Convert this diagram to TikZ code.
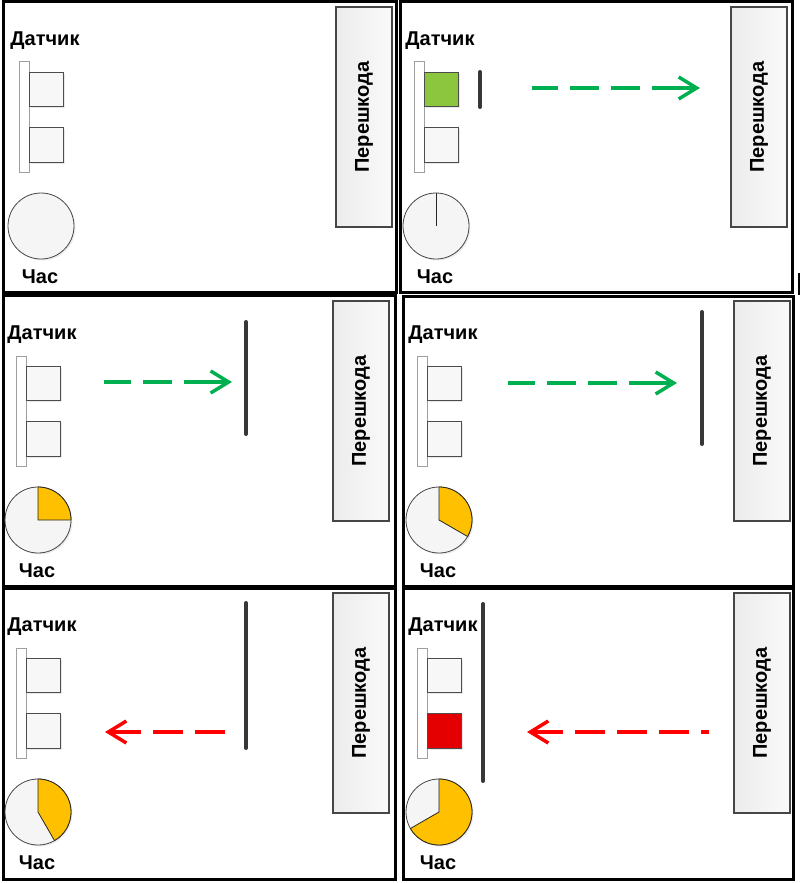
\documentclass[tikz,border=0pt]{standalone}
\usepackage{fontspec}
\setmainfont{Liberation Sans}
\usetikzlibrary{arrows.meta,shadows}
\definecolor{okgreen}{RGB}{0,176,80}
\definecolor{ledgreen}{RGB}{140,198,63}
\definecolor{alarmred}{RGB}{255,0,0}
\definecolor{ledred}{RGB}{228,0,0}
\definecolor{timeyellow}{RGB}{255,192,0}
\definecolor{walldark}{RGB}{55,55,55}
\tikzset{
  panelframe/.style={draw=black, line width=3pt},
  lbl/.style={font=\bfseries\fontsize{20}{22}\selectfont, inner sep=0pt},
  sensorbar/.style={draw=gray!75, fill=white, line width=1pt},
  cell/.style={draw=gray!60!black, line width=1pt, fill=#1,
    drop shadow={opacity=0.18, shadow xshift=1.5pt, shadow yshift=-1.5pt}},
  cell/.default=gray!6,
  clockface/.style={draw=gray!55!black, line width=0.8pt, fill=gray!8,
    drop shadow={opacity=0.15, shadow xshift=1.5pt, shadow yshift=-1.5pt}},
  sector/.style={fill=timeyellow, draw=gray!30!black, line width=0.8pt},
  hand/.style={draw=gray!30!black, line width=0.8pt},
  obstacle/.style={draw=gray!55!black, line width=1.2pt, rotate=90,
    minimum width=220pt, minimum height=56pt, inner sep=0pt,
    left color=gray!15, right color=gray!4, font=\bfseries\fontsize{20}{22}\selectfont},
  wall/.style={draw=walldark, line width=4pt, line cap=round},
  goarrow/.style={draw=okgreen, line width=3.5pt,
    {Straight Barb[length=18pt, width=22pt]}-,
    dash pattern=on 43pt off 12pt on 29pt off 12pt on 29pt off 12pt on 29pt off 12pt on 29pt off 12pt},
  backarrow/.style={draw=alarmred, line width=3.5pt,
    {Straight Barb[length=18pt, width=22pt]}-,
    dash pattern=on 31pt off 12pt on 30pt off 12pt on 30pt off 12pt on 30pt off 12pt on 30pt off 12pt}
}
\begin{document}
\begin{tikzpicture}[x=1pt, y=-1pt]
  % Canvas
  \useasboundingbox (0,0) rectangle (800,883);

  % Panel frames
  \foreach \xa/\ya/\xb/\yb in {3/2/396/292, 400/2/792/292, 3/295/395/586,
                               403/296/793/586, 3/588/395/879, 403/588/793/879}
    \draw[panelframe] (\xa,\ya) rectangle (\xb,\yb);
  \draw[line width=2pt] (799,273) -- (799,295);

  % Sensor, clock and obstacle of every panel
  \foreach \i/\ox/\oy/\upfill/\lowfill in {1/5/2/gray!6/gray!6, 2/400/2/ledgreen/gray!6,
      3/2/296/gray!6/gray!6, 4/403/296/gray!6/gray!6,
      5/2/588/gray!6/gray!6, 6/403/588/gray!6/ledred} {
    \begin{scope}[shift={(\ox,\oy)}]
      \node[lbl] (dat\i) at (40,39) {Датчик};
      \draw[sensorbar] (14,60) rectangle (24,170);
      \draw[cell=\upfill] (24,70) rectangle (58,104);
      \draw[cell=\lowfill] (24,125) rectangle (58,160);
      \coordinate (c\i) at (36,224);
      \draw[clockface] (c\i) circle (33);
      \node[lbl] (hour\i) at (35,275) {Час};
      \node[obstacle] (obs\i) at (359,115) {Перешкода};
    \end{scope}
  }

  % Elapsed time on the clocks
  \draw[hand] (c2) -- ++(-90:33);
  \filldraw[sector] (c3) -- ++(-90:33) arc[start angle=-90, end angle=0, radius=33] -- cycle;
  \filldraw[sector] (c4) -- ++(-90:33) arc[start angle=-90, end angle=30, radius=33] -- cycle;
  \filldraw[sector] (c5) -- ++(-90:33) arc[start angle=-90, end angle=60, radius=33] -- cycle;
  \filldraw[sector] (c6) -- ++(-90:33) arc[start angle=-90, end angle=150, radius=33] -- cycle;

  % Pulse and walls
  \draw[wall] (480,72) -- (480,107);
  \draw[wall] (246,322) -- (246,434);
  \draw[wall] (702,312) -- (702,444);
  \draw[wall] (246,603) -- (246,748);
  \draw[wall] (483,604) -- (483,781);

  % Outgoing pulses
  \coordinate (tail2) at (532,88);  \coordinate (tip2) at (700,88);
  \coordinate (tail3) at (104,382); \coordinate (tip3) at (232,382);
  \coordinate (tail4) at (508,383); \coordinate (tip4) at (677,383);
  \draw[goarrow] (tip2) -- (tail2);
  \draw[goarrow] (tip3) -- (tail3);
  \draw[goarrow] (tip4) -- (tail4);

  % Echoes
  \coordinate (tail5) at (235,732); \coordinate (tip5) at (105,732);
  \coordinate (tail6) at (709,732); \coordinate (tip6) at (527,732);
  \draw[backarrow] (tip5) -- (tail5);
  \draw[backarrow] (tip6) -- (tail6);
\end{tikzpicture}
\end{document}
